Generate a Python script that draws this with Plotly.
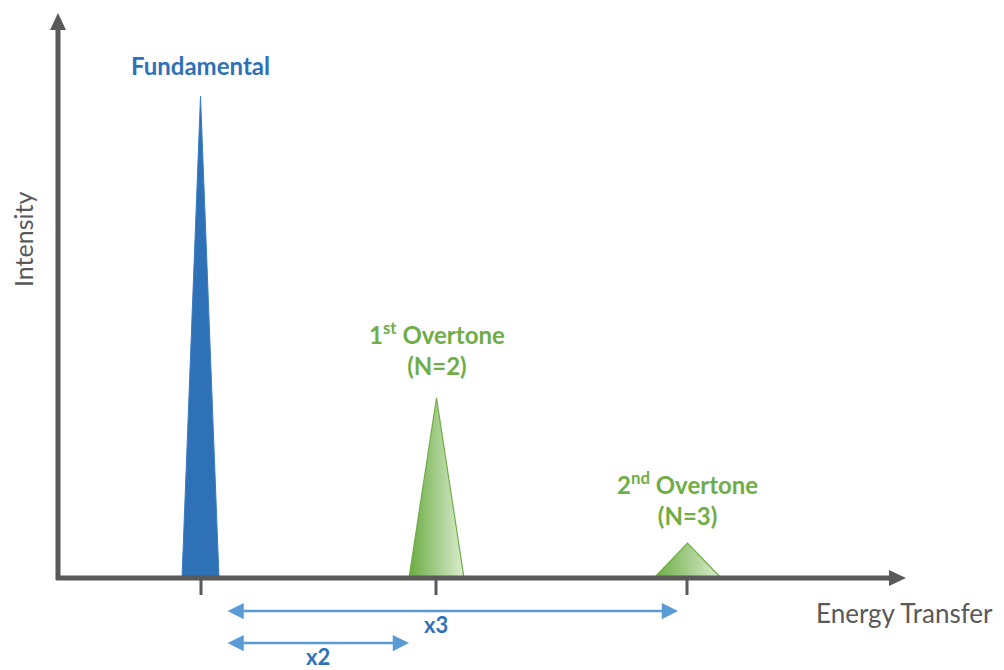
import plotly.graph_objects as go

# ---- data (arbitrary units: energy along x, intensity along y) ----
peak_labels = ["Fundamental", "1<sup>st</sup> Overtone<br>(N=2)", "2<sup>nd</sup> Overtone<br>(N=3)"]
peak_energy = [142.5, 378.5, 629.5]
peak_intensity = [482, 180, 35]
peak_base_width = [37, 55, 67]
tick_energy = [143, 378, 629]
span_labels = ["x3", "x2"]
span_start = [168, 168]
span_end = [620, 351]
span_level = [-33, -65]

BLUE = "#2f71b7"
LBLUE = "#5b9bd5"
GREEN = "#70ad47"
GRAY = "#595959"
FONT = "Lato"

fig = go.Figure()

fills = [
    dict(fillcolor=BLUE, line=dict(color="#3b7dc4", width=1)),
    dict(fillgradient=dict(type="horizontal", colorscale=[[0, "#6aab42"], [1, "#dcedd0"]]),
         line=dict(color=GREEN, width=1.2)),
    dict(fillgradient=dict(type="horizontal", colorscale=[[0, "#6aab42"], [1, "#dcedd0"]]),
         line=dict(color=GREEN, width=1.2)),
]
for e, h, w, st in zip(peak_energy, peak_intensity, peak_base_width, fills):
    fig.add_trace(go.Scatter(
        x=[e - w / 2, e, e + w / 2, e - w / 2],
        y=[0, h, 0, 0],
        mode="lines", fill="toself", hoverinfo="skip", showlegend=False, **st))

shapes = []
# axes
x_end = 848
y_end = 565
shapes.append(dict(type="line", x0=-2, y0=0, x1=x_end - 14, y1=0, line=dict(color=GRAY, width=5)))
shapes.append(dict(type="line", x0=0, y0=-2, x1=0, y1=y_end - 14, line=dict(color=GRAY, width=5)))
shapes.append(dict(type="path", path=f"M {x_end-17},-8 L {x_end},0 L {x_end-17},8 Z",
                   fillcolor=GRAY, line=dict(width=0)))
shapes.append(dict(type="path", path=f"M -8,{y_end-17} L 0,{y_end} L 8,{y_end-17} Z",
                   fillcolor=GRAY, line=dict(width=0)))
for t in tick_energy:
    shapes.append(dict(type="line", x0=t, y0=0, x1=t, y1=-17, line=dict(color=GRAY, width=3)))

annotations = []
# spans (double arrows)
for s, e, lv in zip(span_start, span_end, span_level):
    annotations.append(dict(x=e, y=lv, ax=s, ay=lv, xref="x", yref="y", axref="x", ayref="y",
                            text="", showarrow=True, arrowside="end+start", arrowhead=2,
                            arrowsize=1.3, arrowwidth=2.5, arrowcolor=LBLUE))
span_text_pos = [(378, -46), (260, -78)]
for lab, (tx, ty) in zip(span_labels, span_text_pos):
    annotations.append(dict(x=tx, y=ty, xref="x", yref="y", text=f"<b>{lab}</b>", showarrow=False,
                            borderpad=0, font=dict(family=FONT, size=22, color=BLUE)))

label_y = [513, 230, 80]
label_colors = [BLUE, GREEN, GREEN]
for lab, e, ly, c in zip(peak_labels, peak_energy, label_y, label_colors):
    annotations.append(dict(x=e, y=ly, xref="x", yref="y", text=f"<b>{lab}</b>", showarrow=False,
                            font=dict(family=FONT, size=24, color=c)))

annotations.append(dict(x=846, y=-35, xref="x", yref="y", text="Energy Transfer", showarrow=False,
                        borderpad=0, font=dict(family=FONT, size=26, color=GRAY)))
annotations.append(dict(x=-35, y=338, xref="x", yref="y", text="Intensity", showarrow=False,
                        textangle=-90, font=dict(family=FONT, size=25, color=GRAY)))

# page body has an 8px margin: size the figure to fit the 1004x670 window
fig.update_layout(
    width=996, height=662,
    margin=dict(l=0, r=0, t=0, b=0),
    paper_bgcolor="white", plot_bgcolor="white",
    xaxis=dict(range=[-50, 946], visible=False, fixedrange=True),
    yaxis=dict(range=[-92, 570], visible=False, fixedrange=True),
    shapes=shapes, annotations=annotations,
)

fig.write_html("out.html")
